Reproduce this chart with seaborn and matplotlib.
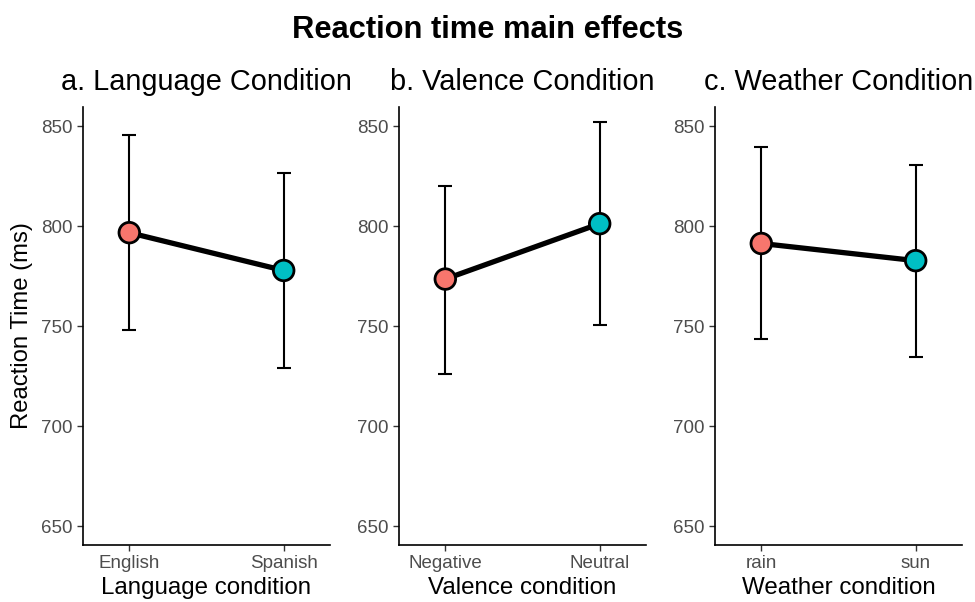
import matplotlib
matplotlib.use("Agg")
import matplotlib.pyplot as plt
import seaborn as sns
import pandas as pd

sns.set_theme(style="ticks")
plt.rcParams['font.family'] = ['Liberation Sans', 'DejaVu Sans']
plt.rcParams['text.color'] = 'black'

# ---- data ----
lang_levels = ["English", "Spanish"]
lang_mean = [796.7, 777.8]
lang_lo = [748.0, 729.2]
lang_hi = [845.7, 826.7]

val_levels = ["Negative", "Neutral"]
val_mean = [773.5, 801.2]
val_lo = [726.2, 750.5]
val_hi = [820.2, 851.8]

wea_levels = ["rain", "sun"]
wea_mean = [791.3, 782.7]
wea_lo = [743.5, 734.7]
wea_hi = [839.7, 830.7]

titles = ["a. Language Condition", "b. Valence Condition", "c. Weather Condition"]
xlabels = ["Language condition", "Valence condition", "Weather condition"]
ylabel = "Reaction Time (ms)"
suptitle = "Reaction time main effects"
yticks = [650, 700, 750, 800, 850]
palette = ["#F8766D", "#00BFC4"]

panels = [
    (lang_levels, lang_mean, lang_lo, lang_hi),
    (val_levels, val_mean, val_lo, val_hi),
    (wea_levels, wea_mean, wea_lo, wea_hi),
]

fig = plt.figure(figsize=(9.75, 6.02), dpi=100)
lefts = [83 / 975, 399 / 975, 715 / 975]
width = 247 / 975
bottom = 1 - 545 / 602
height = (545 - 106.7) / 602

for i, (levels, mean, lo, hi) in enumerate(panels):
    ax = fig.add_axes([lefts[i], bottom, width, height])
    df = pd.DataFrame({"cond": levels, "mean": mean, "lo": lo, "hi": hi})
    yerr = [df["mean"] - df["lo"], df["hi"] - df["mean"]]
    ax.errorbar(df["cond"], df["mean"], yerr=yerr, fmt="none", ecolor="black",
                elinewidth=1.5, capsize=4.7, capthick=1.5, zorder=1)
    sns.lineplot(data=df, x="cond", y="mean", color="black", linewidth=3.8,
                 sort=False, ax=ax, zorder=2)
    sns.scatterplot(data=df, x="cond", y="mean", hue="cond", palette=palette,
                    s=220, edgecolor="black", linewidth=2, legend=False, ax=ax,
                    zorder=3)
    ax.set_xlim(-0.3, 1.3)
    ax.set_ylim(640.5, 859.7)
    ax.set_yticks(yticks)
    ax.set_title(titles[i], fontsize=20.8, pad=12, color="black")
    ax.set_xlabel(xlabels[i], fontsize=17.4, color="black", labelpad=3)
    ax.set_ylabel(ylabel if i == 0 else "", fontsize=17.2, color="black", labelpad=6)
    for side in ["top", "right"]:
        ax.spines[side].set_visible(False)
    for side in ["left", "bottom"]:
        ax.spines[side].set_color("black")
        ax.spines[side].set_linewidth(1.2)
    ax.tick_params(axis="both", labelsize=13.5, colors="#4D4D4D", length=4.5,
                   width=1.0, pad=3)
    ax.tick_params(axis="both", color="#333333")

fig.suptitle(suptitle, fontsize=22.2, fontweight="bold", y=0.975, color="black")
fig.savefig("out.png", dpi=100)
